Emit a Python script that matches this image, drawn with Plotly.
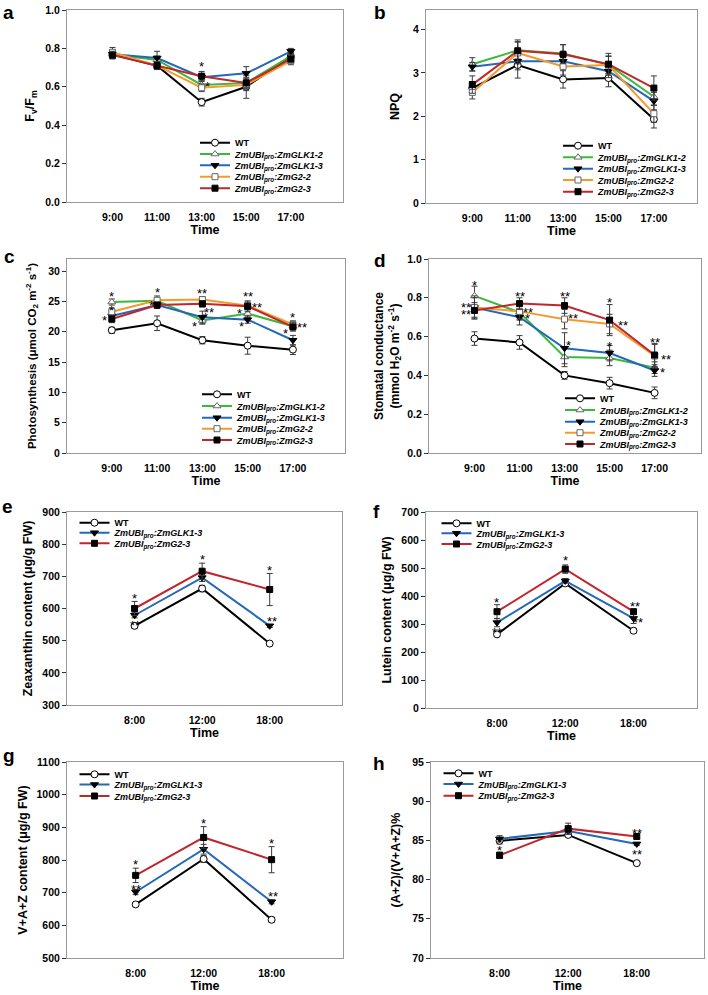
import plotly.graph_objects as go

W, H = 708, 995
FONT = "Liberation Sans"

# ---------------- data ----------------
TIMES_DAY = ["9:00", "11:00", "13:00", "15:00", "17:00"]
TIMES_PIG = ["8:00", "12:00", "18:00"]

LBL_WT = "WT"
LBL_GLK12 = "<i>ZmUBI<sub>pro</sub>:ZmGLK1-2</i>"
LBL_GLK13 = "<i>ZmUBI<sub>pro</sub>:ZmGLK1-3</i>"
LBL_G22 = "<i>ZmUBI<sub>pro</sub>:ZmG2-2</i>"
LBL_G23 = "<i>ZmUBI<sub>pro</sub>:ZmG2-3</i>"

# a: Fv/Fm
fvfm_wt = [0.77, 0.71, 0.52, 0.60, 0.76]
fvfm_glk12 = [0.77, 0.74, 0.61, 0.62, 0.76]
fvfm_glk13 = [0.77, 0.75, 0.65, 0.67, 0.785]
fvfm_g22 = [0.78, 0.71, 0.595, 0.61, 0.735]
fvfm_g23 = [0.765, 0.71, 0.655, 0.62, 0.745]
fvfm_wt_err = [0.02, 0.02, 0.02, 0.06, 0.02]
fvfm_glk12_err = [0.02, 0.02, 0.02, 0.03, 0.02]
fvfm_glk13_err = [0.02, 0.035, 0.02, 0.035, 0.015]
fvfm_g22_err = [0.025, 0.02, 0.02, 0.03, 0.02]
fvfm_g23_err = [0.02, 0.02, 0.025, 0.025, 0.02]

# b: NPQ
npq_wt = [2.65, 3.18, 2.85, 2.88, 1.93]
npq_glk12 = [3.2, 3.52, 3.45, 3.19, 2.45]
npq_glk13 = [3.14, 3.27, 3.27, 3.04, 2.35]
npq_g22 = [2.55, 3.46, 3.15, 3.18, 2.06]
npq_g23 = [2.73, 3.51, 3.43, 3.2, 2.65]
npq_wt_err = [0.15, 0.3, 0.2, 0.2, 0.2]
npq_glk12_err = [0.15, 0.2, 0.2, 0.2, 0.2]
npq_glk13_err = [0.1, 0.2, 0.15, 0.15, 0.2]
npq_g22_err = [0.15, 0.25, 0.2, 0.2, 0.2]
npq_g23_err = [0.2, 0.25, 0.22, 0.25, 0.28]

# c: Photosynthesis
pn_wt = [20.25, 21.4, 18.6, 17.7, 17.05]
pn_glk12 = [24.9, 25.1, 21.85, 23.0, 20.9]
pn_glk13 = [22.6, 24.4, 22.4, 22.0, 18.6]
pn_g22 = [23.3, 25.2, 25.3, 24.3, 21.2]
pn_g23 = [22.1, 24.4, 24.6, 24.2, 20.8]
pn_wt_err = [0.5, 1.2, 0.6, 1.4, 0.8]
pn_glk12_err = [0.5, 0.5, 0.6, 0.6, 0.6]
pn_glk13_err = [0.6, 0.5, 1.0, 0.6, 0.8]
pn_g22_err = [0.6, 0.7, 0.5, 0.6, 0.6]
pn_g23_err = [0.6, 0.5, 0.5, 0.9, 0.7]

# d: Stomatal conductance
gs_wt = [0.59, 0.57, 0.40, 0.36, 0.31]
gs_glk12 = [0.81, 0.725, 0.495, 0.49, 0.44]
gs_glk13 = [0.75, 0.70, 0.54, 0.515, 0.425]
gs_g22 = [0.75, 0.73, 0.69, 0.665, 0.50]
gs_g23 = [0.735, 0.77, 0.76, 0.685, 0.505]
gs_wt_err = [0.035, 0.035, 0.02, 0.03, 0.03]
gs_glk12_err = [0.05, 0.04, 0.05, 0.04, 0.03]
gs_glk13_err = [0.06, 0.04, 0.08, 0.04, 0.03]
gs_g22_err = [0.05, 0.04, 0.05, 0.05, 0.06]
gs_g23_err = [0.04, 0.03, 0.04, 0.08, 0.06]

# e: Zeaxanthin
zea_wt = [546, 662, 491]
zea_glk13 = [579, 696, 546]
zea_g23 = [600, 716, 659]
zea_wt_err = [8, 10, 5]
zea_glk13_err = [8, 12, 5]
zea_g23_err = [22, 25, 50]

# f: Lutein
lut_wt = [263, 445, 276]
lut_glk13 = [305, 454, 320]
lut_g23 = [344, 496, 344]
lut_wt_err = [8, 8, 8]
lut_glk13_err = [15, 8, 18]
lut_g23_err = [25, 15, 8]

# g: V+A+Z
vaz_wt = [664, 803, 617]
vaz_glk13 = [702, 833, 672]
vaz_g23 = [753, 869, 801]
vaz_wt_err = [6, 10, 8]
vaz_glk13_err = [8, 15, 6]
vaz_g23_err = [22, 33, 40]

# h: (A+Z)/(V+A+Z)
deps_wt = [84.95, 85.7, 82.1]
deps_glk13 = [85.2, 86.2, 84.55]
deps_g23 = [83.1, 86.5, 85.5]
deps_wt_err = [0.4, 0.3, 0.2]
deps_glk13_err = [0.4, 0.4, 0.2]
deps_g23_err = [0.4, 0.7, 0.2]

# significance marks: (time index, y value, text, x shift px)
stars_a = [(2, 0.728, "*", 0), (2, 0.624, "*", 6)]
stars_b = []
stars_c = [(0, 26.5, "*", 0), (0, 24.2, "*", 0), (0, 22.45, "*", -7),
           (1, 27.2, "*", 0), (1, 25.0, "*", -6),
           (2, 27.0, "**", 0), (2, 23.9, "**", 7), (2, 23.0, "*", 3), (2, 21.5, "*", -8),
           (3, 26.4, "**", 0), (3, 24.7, "**", 9), (3, 23.6, "*", -8), (3, 21.5, "*", -6),
           (4, 23.0, "*", 0), (4, 21.35, "**", 9), (4, 20.4, "*", -7)]
stars_d = [(0, 0.885, "*", 0), (0, 0.773, "**", -8), (0, 0.735, "**", -8),
           (1, 0.828, "**", 0), (1, 0.747, "**", 8), (1, 0.713, "*", 8),
           (2, 0.828, "**", 0), (2, 0.713, "**", 8), (2, 0.576, "*", 4),
           (3, 0.794, "*", 0), (3, 0.679, "**", 13), (3, 0.570, "*", 0),
           (4, 0.588, "**", 0), (4, 0.502, "**", 11), (4, 0.438, "*", 8)]
stars_e = [(0, 643, "*", 0), (0, 559, "**", 0), (1, 765, "*", 0), (2, 731, "*", 0), (2, 572, "**", 2)]
stars_f = [(0, 391, "*", 0), (0, 285, "**", 0), (1, 540, "*", 0), (2, 377, "**", 1), (2, 320, "**", 4)]
stars_g = [(0, 798, "*", 0), (0, 722, "**", 0), (1, 925, "*", 0), (2, 862, "*", 0), (2, 700, "**", 1)]
stars_h = [(0, 84.2, "*", 0), (2, 86.4, "**", 0), (2, 83.7, "**", 0)]

# ---------------- styles ----------------
STY = {
    "wt": dict(color="#000000", symbol="circle", fill="#ffffff", edge="#000000", size=7),
    "glk12": dict(color="#3cb83c", symbol="triangle-up", fill="#ffffff", edge="#666666", size=7),
    "glk13": dict(color="#2468b8", symbol="triangle-down", fill="#000000", edge="#000000", size=7),
    "g22": dict(color="#f39a2c", symbol="square", fill="#ffffff", edge="#666666", size=6),
    "g23": dict(color="#c0262c", symbol="square", fill="#000000", edge="#000000", size=6),
}

# letter_pos = (left px, top px of the letter's text box)
panels = [
    dict(letter="a", letter_pos=(1, 0), times=TIMES_DAY,
         series=[("wt", LBL_WT, fvfm_wt, fvfm_wt_err), ("glk12", LBL_GLK12, fvfm_glk12, fvfm_glk12_err),
                 ("glk13", LBL_GLK13, fvfm_glk13, fvfm_glk13_err), ("g22", LBL_G22, fvfm_g22, fvfm_g22_err),
                 ("g23", LBL_G23, fvfm_g23, fvfm_g23_err)],
         box=(67, 343, 10, 202), xr=[-1.02, 5.17], yr=[0, 1.0], dtick=0.2, fmt=".1f",
         ytitle="F<sub>v</sub>/F<sub>m</sub>", tsize=12.5, tstand=7,
         leg_x=200, leg_y=[142.7, 154, 165.3, 176.7, 188.2], stars=stars_a),
    dict(letter="b", letter_pos=(372, 0), times=TIMES_DAY,
         series=[("wt", LBL_WT, npq_wt, npq_wt_err), ("glk12", LBL_GLK12, npq_glk12, npq_glk12_err),
                 ("glk13", LBL_GLK13, npq_glk13, npq_glk13_err), ("g22", LBL_G22, npq_g22, npq_g22_err),
                 ("g23", LBL_G23, npq_g23, npq_g23_err)],
         box=(426, 697, 10, 203), xr=[-1.02, 4.95], yr=[0, 4.45], dtick=1, fmt="d",
         ytitle="NPQ", tsize=12.5, tstand=10,
         leg_x=563, leg_y=[145.7, 157.3, 168.7, 180, 191.7], stars=stars_b),
    dict(letter="c", letter_pos=(2, 244), times=TIMES_DAY,
         series=[("wt", LBL_WT, pn_wt, pn_wt_err), ("glk12", LBL_GLK12, pn_glk12, pn_glk12_err),
                 ("glk13", LBL_GLK13, pn_glk13, pn_glk13_err), ("g22", LBL_G22, pn_g22, pn_g22_err),
                 ("g23", LBL_G23, pn_g23, pn_g23_err)],
         box=(67, 345, 259, 453), xr=[-0.99, 5.15], yr=[0, 32], dtick=5, fmt="d",
         ytitle="Photosynthesis (\u03bcmol CO<sub>2</sub> m<sup>-2</sup> s<sup>-1</sup>)",
         tsize=11.5, tstand=9,
         leg_x=202, leg_y=[394.3, 406, 417.7, 428.7, 440], stars=stars_c),
    dict(letter="d", letter_pos=(372, 248), times=TIMES_DAY,
         series=[("wt", LBL_WT, gs_wt, gs_wt_err), ("glk12", LBL_GLK12, gs_glk12, gs_glk12_err),
                 ("glk13", LBL_GLK13, gs_glk13, gs_glk13_err), ("g22", LBL_G22, gs_g22, gs_g22_err),
                 ("g23", LBL_G23, gs_g23, gs_g23_err)],
         box=(429, 701, 259, 453), xr=[-1.01, 5.03], yr=[0, 1.0], dtick=0.2, fmt=".1f",
         ytitle="Stomatal conductance<br>(mmol H<sub>2</sub>O m<sup>-2</sup> s<sup>-1</sup>)",
         tsize=12, tstand=5,
         leg_x=565, leg_y=[398.3, 410, 421.7, 432.7, 444], stars=stars_d),
    dict(letter="e", letter_pos=(0, 494), times=TIMES_PIG,
         series=[("wt", LBL_WT, zea_wt, zea_wt_err), ("glk13", LBL_GLK13, zea_glk13, zea_glk13_err),
                 ("g23", LBL_G23, zea_g23, zea_g23_err)],
         box=(67, 342, 512, 705), xr=[-1.0, 3.07], yr=[300, 900], dtick=100, fmt="d",
         ytitle="Zeaxanthin content (\u03bcg/g FW)", tsize=12.5, tstand=6,
         leg_x=79.5, leg_y=[522.7, 532.7, 543.3], stars=stars_e),
    dict(letter="f", letter_pos=(371, 499), times=TIMES_PIG,
         series=[("wt", LBL_WT, lut_wt, lut_wt_err), ("glk13", LBL_GLK13, lut_glk13, lut_glk13_err),
                 ("g23", LBL_G23, lut_g23, lut_g23_err)],
         box=(426, 697, 512, 708), xr=[-1.04, 2.93], yr=[0, 700], dtick=100, fmt="d",
         ytitle="Lutein content (\u03bcg/g FW)", tsize=12.5, tstand=6,
         leg_x=441.5, leg_y=[523.3, 533.3, 544], stars=stars_f),
    dict(letter="g", letter_pos=(1, 743), times=TIMES_PIG,
         series=[("wt", LBL_WT, vaz_wt, vaz_wt_err), ("glk13", LBL_GLK13, vaz_glk13, vaz_glk13_err),
                 ("g23", LBL_G23, vaz_g23, vaz_g23_err)],
         box=(67, 343, 762, 958), xr=[-1.01, 3.05], yr=[500, 1100], dtick=100, fmt="d",
         ytitle="V+A+Z content (\u03bcg/g FW)", tsize=12.5, tstand=6,
         leg_x=79.5, leg_y=[774.3, 784.5, 796], stars=stars_g),
    dict(letter="h", letter_pos=(371, 751), times=TIMES_PIG,
         series=[("wt", LBL_WT, deps_wt, deps_wt_err), ("glk13", LBL_GLK13, deps_glk13, deps_glk13_err),
                 ("g23", LBL_G23, deps_g23, deps_g23_err)],
         box=(431, 704, 762, 958), xr=[-1.0, 2.98], yr=[70, 95], dtick=5, fmt="d",
         ytitle="(A+Z)/(V+A+Z)%", tsize=12.5, tstand=8,
         leg_x=443.5, leg_y=[773.3, 784, 795.7], stars=stars_h),
]

fig = go.Figure()
layout = dict(
    width=W, height=H, margin=dict(l=0, r=0, t=0, b=0, pad=0, autoexpand=False),
    paper_bgcolor="white", plot_bgcolor="white",
    font=dict(family=FONT, color="#000000"),
    showlegend=True, annotations=[],
)

leg_n = 0
for i, p in enumerate(panels, start=1):
    xa = "xaxis" if i == 1 else f"xaxis{i}"
    ya = "yaxis" if i == 1 else f"yaxis{i}"
    xref = "x" if i == 1 else f"x{i}"
    yref = "y" if i == 1 else f"y{i}"
    x0, x1, y0, y1 = p["box"]
    layout[xa] = dict(
        domain=[x0 / W, x1 / W], anchor=yref, type="category",
        categoryorder="array", categoryarray=p["times"], range=p["xr"],
        showline=True, linecolor="#9a9a9a", linewidth=1, mirror=True,
        ticks="", showgrid=False, zeroline=False, ticklabelstandoff=5,
        automargin=False,
        tickfont=dict(family=FONT, size=10.5, weight="bold"),
        title=dict(text="Time", font=dict(family=FONT, size=12.5, weight="bold"), standoff=2),
    )
    layout[ya] = dict(
        domain=[1 - y1 / H, 1 - y0 / H], anchor=xref, range=p["yr"], dtick=p["dtick"],
        tick0=p["yr"][0] if p["fmt"] != ".1f" else 0, tickformat=p["fmt"],
        showline=True, linecolor="#9a9a9a", linewidth=1, mirror=True,
        ticks="outside", ticklen=4, tickcolor="#333333", tickwidth=1,
        showgrid=False, zeroline=False, automargin=False,
        tickfont=dict(family=FONT, size=10.5, weight="bold"),
        title=dict(text=p["ytitle"], standoff=p["tstand"],
                   font=dict(family=FONT, size=p["tsize"], weight="bold")),
    )
    for (key, label, vals, errs), ly in zip(p["series"], p["leg_y"]):
        leg_n += 1
        lid = "legend" if leg_n == 1 else f"legend{leg_n}"
        s = STY[key]
        fig.add_trace(go.Scatter(
            x=p["times"], y=vals, name=label, mode="lines+markers",
            xaxis=xref, yaxis=yref, legend=lid,
            line=dict(color=s["color"], width=2),
            marker=dict(symbol=s["symbol"], color=s["fill"], size=s["size"],
                        line=dict(color=s["edge"], width=1)),
            error_y=dict(type="data", array=errs, color="#3a3a3a", thickness=1, width=3),
            cliponaxis=False,
        ))
        layout[lid] = dict(
            x=(p["leg_x"] - 5) / W, y=1 - ly / H, xanchor="left", yanchor="middle",
            bgcolor="rgba(0,0,0,0)", borderwidth=0, itemwidth=30,
            font=dict(family=FONT, size=9, weight="bold"), itemclick=False,
        )
    for (ti, yv, txt, xs) in p["stars"]:
        layout["annotations"].append(dict(
            x=p["times"][ti], y=yv, xref=xref, yref=yref, text=txt, showarrow=False,
            xshift=xs, yshift=-4, font=dict(family=FONT, size=13, color="#000000"),
        ))
    lx, lyy = p["letter_pos"]
    layout["annotations"].append(dict(
        x=lx / W, y=1 - lyy / H, xref="paper", yref="paper", text=f"<b>{p['letter']}</b>",
        showarrow=False, xanchor="left", yanchor="top",
        font=dict(family=FONT, size=19, color="#000000"),
    ))

fig.update_layout(**layout)
fig.write_html(
    "out.html",
    config={"displayModeBar": False},
    post_script="document.body.style.margin='0';document.body.style.padding='0';",
)
